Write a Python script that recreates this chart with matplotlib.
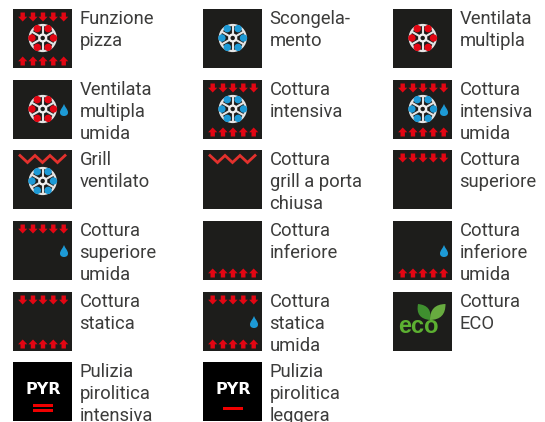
import numpy as np
import matplotlib
matplotlib.use('Agg')
import matplotlib.pyplot as plt
from matplotlib.patches import Rectangle, Circle, Polygon, PathPatch
from matplotlib.path import Path

plt.rcParams['font.family'] = ['Roboto', 'DejaVu Sans']

# label, then what the tile shows: top/bottom heat, fan colour, grill, drop, special
labels = ['Funzione\npizza', 'Scongela-\nmento', 'Ventilata\nmultipla',
          'Ventilata\nmultipla\numida', 'Cottura\nintensiva', 'Cottura\nintensiva\numida',
          'Grill\nventilato', 'Cottura\ngrill a porta\nchiusa', 'Cottura\nsuperiore',
          'Cottura\nsuperiore\numida', 'Cottura\ninferiore', 'Cottura\ninferiore\numida',
          'Cottura\nstatica', 'Cottura\nstatica\numida', 'Cottura\nECO',
          'Pulizia\npirolitica\nintensiva', 'Pulizia\npirolitica\nleggera']
top_heat = [1, 0, 0, 0, 1, 1, 0, 0, 1, 1, 0, 0, 1, 1, 0, 0, 0]
bottom_heat = [1, 0, 0, 0, 1, 1, 0, 0, 0, 0, 1, 1, 1, 1, 0, 0, 0]
fans = ['red', 'blue', 'red', 'red', 'blue', 'blue', 'blue', None, None,
        None, None, None, None, None, None, None, None]
grill = [0, 0, 0, 0, 0, 0, 1, 1, 0, 0, 0, 0, 0, 0, 0, 0, 0]
drops = [0, 0, 0, 1, 0, 1, 0, 0, 0, 1, 0, 1, 0, 1, 0, 0, 0]
specials = [None] * 14 + ['eco', 'pyr2', 'pyr1']

col_x = [13, 203, 393]
row_y = [9, 80, 150, 221, 292, 362]
TILE = 59
RED = '#e30613'
BLUE = '#1d9ad6'
DARK = '#1d1d1b'
TEXT = '#3c3c3b'


def heat_row(ax, x, y, up):
    # five little arrows across the tile
    for cx in [9.7, 20, 30, 40.3, 50.7]:
        cx = x + cx
        if up:
            pts = [(cx, y), (cx + 4.6, y + 4.8), (cx + 2.2, y + 4.8), (cx + 2.2, y + 9),
                   (cx - 2.2, y + 9), (cx - 2.2, y + 4.8), (cx - 4.6, y + 4.8)]
        else:
            pts = [(cx, y + 9), (cx + 4.6, y + 4.2), (cx + 2.2, y + 4.2), (cx + 2.2, y),
                   (cx - 2.2, y), (cx - 2.2, y + 4.2), (cx - 4.6, y + 4.2)]
        ax.add_patch(Polygon(pts, fc=RED, ec='none', zorder=3))


def fan(ax, cx, cy, colour):
    blob = RED if colour == 'red' else BLUE
    ax.add_patch(Circle((cx, cy), 13, fc='none', ec='#e4e4e4', lw=1.6, zorder=3))
    for a in np.deg2rad(np.arange(0, 360, 60)):
        ax.add_patch(Circle((cx + 10.8 * np.cos(a), cy + 10.8 * np.sin(a)), 3.7,
                            fc=blob, ec='none', zorder=4))
    for a in np.deg2rad(np.arange(30, 390, 60)):
        ax.plot([cx, cx + 12.5 * np.cos(a)], [cy, cy + 12.5 * np.sin(a)],
                color='#e4e4e4', lw=1.5, zorder=5, solid_capstyle='butt')
    ax.add_patch(Circle((cx, cy), 3.4, fc=DARK, ec='#f0f0f0', lw=1.7, zorder=6))


def drop(ax, cx, cy):
    verts = [(cx, cy - 6.5), (cx - 1, cy - 3.5), (cx - 4, cy - 1), (cx - 4, cy + 2),
             (cx - 4, cy + 4.5), (cx - 2, cy + 5.5), (cx, cy + 5.5),
             (cx + 2, cy + 5.5), (cx + 4, cy + 4.5), (cx + 4, cy + 2),
             (cx + 4, cy - 1), (cx + 1, cy - 3.5), (cx, cy - 6.5)]
    codes = [Path.MOVETO] + [Path.CURVE4] * 12
    ax.add_patch(PathPatch(Path(verts, codes), fc=BLUE, ec='none', zorder=4))


def leaf(ax, base, tip, bulge, colour):
    b = np.array(base, float)
    t = np.array(tip, float)
    n = np.array([-(t - b)[1], (t - b)[0]]) * bulge
    m = (b + t) / 2
    verts = [b, m + n, t, t, m - n, b]
    codes = [Path.MOVETO, Path.CURVE3, Path.CURVE3, Path.MOVETO, Path.CURVE3, Path.CURVE3]
    ax.add_patch(PathPatch(Path(verts, codes), fc=colour, ec='none', zorder=3))


fig = plt.figure(figsize=(5.45, 4.22), dpi=100)
ax = fig.add_axes([0, 0, 1, 1])
ax.set_xlim(0, 545)
ax.set_ylim(422, 0)
ax.axis('off')

for i, label in enumerate(labels):
    x = col_x[i % 3]
    y = row_y[i // 3]
    special = specials[i]
    bg = '#000000' if special in ('pyr1', 'pyr2') else DARK
    ax.add_patch(Rectangle((x, y), TILE, TILE, fc=bg, ec='none', zorder=1))
    if top_heat[i]:
        heat_row(ax, x, y + 3.5, False)
    if bottom_heat[i]:
        heat_row(ax, x, y + 47.5, True)
    if fans[i]:
        fan(ax, x + 29.7, y + (31 if grill[i] else 29), fans[i])
    if grill[i]:
        gx = x + 7 + np.arange(7) * 7.5
        gy = y + np.array([5.5, 12.5] * 3 + [5.5])
        ax.plot(gx, gy, color='#e3312d', lw=2, zorder=3, solid_joinstyle='miter')
    if drops[i]:
        drop(ax, x + 51, y + 30.5)
    if special == 'eco':
        ax.text(x + 25, y + 41, 'eco', color='#5cb031', fontsize=17, fontweight='bold',
                family=['Liberation Sans'], ha='center', va='baseline', zorder=4)
        leaf(ax, (x + 37, y + 28), (x + 25, y + 12), 0.55, '#3f8f2f')
        leaf(ax, (x + 37, y + 28), (x + 52.5, y + 12), 0.5, '#67ab3f')
    if special in ('pyr1', 'pyr2'):
        ax.text(x + 30, y + 32.5, 'PYR', color='white', fontsize=11.5, fontweight='bold',
                family=['DejaVu Sans'], ha='center', va='baseline', zorder=4)
        bars = [y + 42, y + 47] if special == 'pyr2' else [y + 44.5]
        for by in bars:
            ax.add_patch(Rectangle((x + 20, by), 20, 3.4, fc='#f00000', ec='none', zorder=4))
    for j, line in enumerate(label.split('\n')):
        ax.text(x + 66.6, y + 14.7 + j * 22, line, color=TEXT, fontsize=13.2,
                ha='left', va='baseline', clip_on=True)

fig.savefig('out.png', dpi=100, facecolor='white')
plt.close(fig)
